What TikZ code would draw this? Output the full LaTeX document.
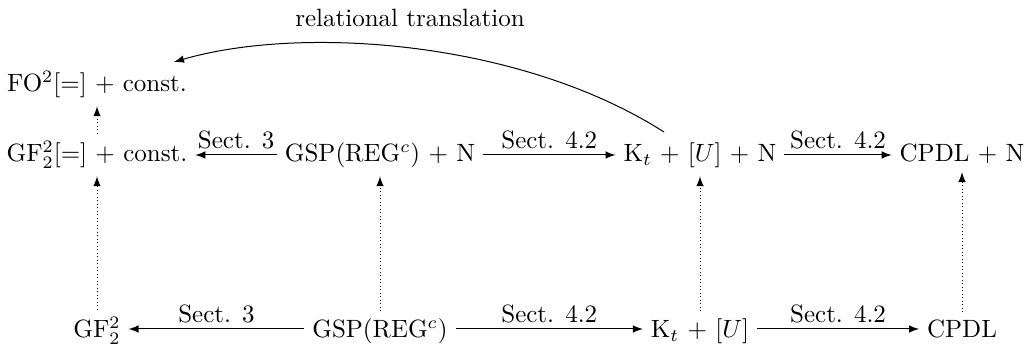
\documentclass[tikz,border=0pt]{standalone}
\usetikzlibrary{arrows,calc}
\begin{document}
\begin{tikzpicture}[x=0.4pt,y=-0.4pt,
  lang/.style={anchor=base, inner sep=3pt},
  rel/.style={->,>=latex,thin},
  dot/.style={->,>=latex,densely dotted,thin},
  lab/.style={above,inner sep=2pt}]
\useasboundingbox (0,0) rectangle (1026,344);
\node[lang] (fo) at (97,92) {FO$^2$[=] + const.};
\node[lang] (gfm) at (97,162) {GF$^2_2$[=] + const.};
\node[lang] (gspm) at (380,162) {GSP(REG$^c$) + N};
\node[lang] (ktm) at (700,162) {K$_t$ + [$U$] + N};
\node[lang] (cpm) at (962,162) {CPDL + N};
\node[lang] (gf) at (97,338) {GF$^2_2$};
\node[lang] (gsp) at (380,338) {GSP(REG$^c$)};
\node[lang] (kt) at (700,338) {K$_t$ + [$U$]};
\node[lang] (cp) at (962,338) {CPDL};
\node[lang] (rt) at (410,27) {relational translation};
\coordinate (cs) at (664,132);
\coordinate (ce) at (174,62);
\draw[rel] (gspm.west |- 0,155) -- node[lab]{Sect. 3} (gfm.east |- 0,155);
\draw[rel] (gspm.east |- 0,155) -- node[lab]{Sect. 4.2} (ktm.west |- 0,155);
\draw[rel] (ktm.east |- 0,155) -- node[lab]{Sect. 4.2} (cpm.west |- 0,155);
\draw[rel] (gsp.west |- 0,329) -- node[lab]{Sect. 3} (gf.east |- 0,329);
\draw[rel] (gsp.east |- 0,329) -- node[lab]{Sect. 4.2} (kt.west |- 0,329);
\draw[rel] (kt.east |- 0,329) -- node[lab]{Sect. 4.2} (cp.west |- 0,329);
\draw[dot] (gf.north) -- (gfm.south);
\draw[dot] (gsp.north) -- (gspm.south);
\draw[dot] (kt.north) -- (ktm.south);
\draw[dot] (cp.north) -- (cpm.south);
\draw[dot] (gfm.north) -- (fo.south);
\draw[rel] (cs) .. controls (520,40) and (300,25) .. (ce);
\end{tikzpicture}
\end{document}
